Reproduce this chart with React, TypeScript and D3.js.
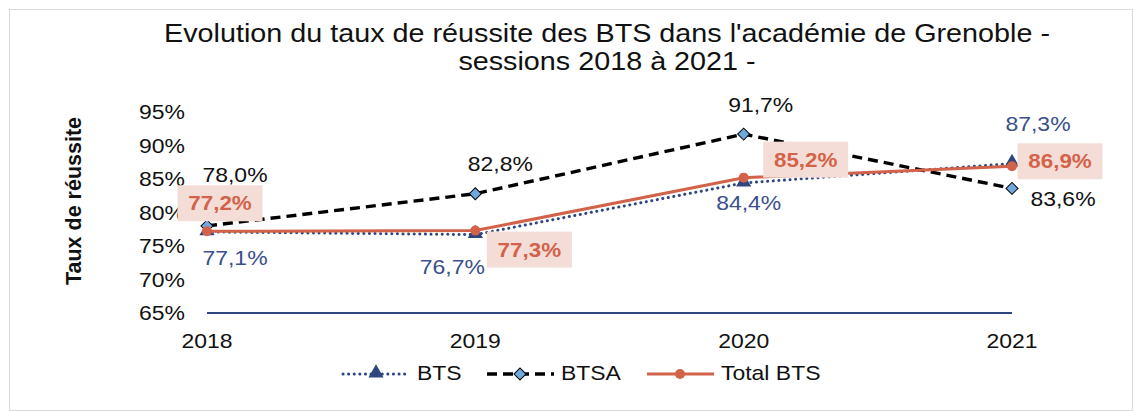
import React, { useEffect, useRef } from "react";
import * as d3 from "d3";

// data
const years = ["2018", "2019", "2020", "2021"];
const btsValues = [77.1, 76.7, 84.4, 87.3];
const btsaValues = [78.0, 82.8, 91.7, 83.6];
const totalValues = [77.2, 77.3, 85.2, 86.9];
const yTicks = [65, 70, 75, 80, 85, 90, 95];

const FONT = "Liberation Sans, Arial, sans-serif";
const NAVY = "#2E4580";
const NAVY_TXT = "#3A4F8C";
const RED = "#D2634A";
const PINK = "#F5DDD7";
const DIAMOND = "#6FA8DC";
const SX = 1.12; // reference text is a little wider than plain Arial

const fmt = (v: number) => v.toFixed(1).replace(".", ",") + "%";

export default function App() {
  const ref = useRef<SVGSVGElement>(null);

  useEffect(() => {
    const svg = d3.select(ref.current);
    svg.selectAll("*").remove();

    const W = 1133, H = 411;

    // writes a text whose glyphs are stretched horizontally around (x, y)
    const label = (parent: any, x: number, y: number, txt: string, opts: any = {}) => {
      const g = parent.append("g").attr("transform", `translate(${x},${y}) scale(${opts.sx ?? SX},1)`);
      return g.append("text")
        .attr("text-anchor", opts.anchor ?? "middle")
        .attr("dy", opts.dy ?? "0.36em")
        .attr("font-family", FONT)
        .attr("font-size", opts.size ?? 20.5)
        .attr("font-weight", opts.bold ? "bold" : "normal")
        .attr("fill", opts.fill ?? "#111")
        .text(txt);
    };

    // frame
    svg.append("rect")
      .attr("x", 9.5).attr("y", 9.5)
      .attr("width", W - 10).attr("height", H - 10)
      .attr("fill", "white").attr("stroke", "#D9D9D9");

    // title
    label(svg, 607, 42, "Evolution du taux de réussite des BTS dans l'académie de Grenoble -", { size: 25, dy: 0, sx: 1.15 });
    label(svg, 607, 70, "sessions 2018 à 2021 -", { size: 25, dy: 0, sx: 1.15 });

    // scales
    const x = d3.scalePoint().domain(years).range([207, 1012]);
    const y = d3.scaleLinear().domain([65, 95]).range([313, 112]);

    // y tick labels
    yTicks.forEach((t) => label(svg, 185, y(t), t + "%", { anchor: "end" }));

    // x axis line (only between first and last category)
    svg.append("line")
      .attr("x1", x(years[0])!).attr("x2", x(years[3])!)
      .attr("y1", y(65)).attr("y2", y(65))
      .attr("stroke", NAVY).attr("stroke-width", 2);

    years.forEach((yr) => label(svg, x(yr)!, 340.5, yr));

    // y axis title
    svg.append("text")
      .attr("transform", "translate(81,201) rotate(-90)")
      .attr("text-anchor", "middle")
      .attr("font-family", FONT).attr("font-size", 21.5).attr("font-weight", "bold")
      .attr("fill", "#111")
      .text("Taux de réussite");

    const line = d3.line<number>()
      .x((_, i) => x(years[i])!)
      .y((d) => y(d));

    const triangle = d3.symbol().type(d3.symbolTriangle).size(100);
    const diamond = d3.symbol().type(d3.symbolSquare).size(72);

    // BTS series (dotted)
    svg.append("path").datum(btsValues)
      .attr("d", line).attr("fill", "none")
      .attr("stroke", NAVY).attr("stroke-width", 3)
      .attr("stroke-dasharray", "0.1 5.5").attr("stroke-linecap", "round");
    svg.append("g").selectAll("path").data(btsValues).join("path")
      .attr("d", triangle)
      .attr("transform", (d, i) => `translate(${x(years[i])},${y(d) - 1})`)
      .attr("fill", NAVY);

    // BTSA series (dashed)
    svg.append("path").datum(btsaValues)
      .attr("d", line).attr("fill", "none")
      .attr("stroke", "#000").attr("stroke-width", 3.4)
      .attr("stroke-dasharray", "10 6");
    svg.append("g").selectAll("path").data(btsaValues).join("path")
      .attr("d", diamond)
      .attr("transform", (d, i) => `translate(${x(years[i])},${y(d)}) rotate(45)`)
      .attr("fill", DIAMOND).attr("stroke", "#000").attr("stroke-width", 1);

    // Total BTS series
    svg.append("path").datum(totalValues)
      .attr("d", line).attr("fill", "none")
      .attr("stroke", RED).attr("stroke-width", 3);
    svg.append("g").selectAll("circle").data(totalValues).join("circle")
      .attr("cx", (_, i) => x(years[i])!).attr("cy", (d) => y(d))
      .attr("r", 5).attr("fill", RED);

    // data labels: offsets of the label centre relative to the point
    const btsOff = [[28, 26], [-23, 32], [5, 20], [26, -40]];
    const btsaOff = [[28, -51], [25, -30], [17, -29], [51, 10]];
    const totOff = [[13, -28], [54, 19], [62, -18], [48, -5]];

    btsValues.forEach((v, i) =>
      label(svg, x(years[i])! + btsOff[i][0], y(v) + btsOff[i][1], fmt(v), { fill: NAVY_TXT }));
    btsaValues.forEach((v, i) =>
      label(svg, x(years[i])! + btsaOff[i][0], y(v) + btsaOff[i][1], fmt(v)));
    totalValues.forEach((v, i) => {
      const cx = x(years[i])! + totOff[i][0];
      const cy = y(v) + totOff[i][1];
      svg.append("rect")
        .attr("x", cx - 42.5).attr("y", cy - 18).attr("width", 85).attr("height", 36)
        .attr("fill", PINK);
      label(svg, cx, cy, fmt(v), { bold: true, fill: RED, size: 20 });
    });

    // legend
    const legendY = 374;
    const items = [
      { x0: 343, label: "BTS" },
      { x0: 487, label: "BTSA" },
      { x0: 647, label: "Total BTS" },
    ];
    items.forEach((it, k) => {
      const g = svg.append("g");
      const l = g.append("line")
        .attr("x1", it.x0).attr("x2", it.x0 + 67)
        .attr("y1", legendY).attr("y2", legendY);
      const mx = it.x0 + 33;
      if (k === 0) {
        l.attr("stroke", NAVY).attr("stroke-width", 3)
          .attr("stroke-dasharray", "0.1 5.5").attr("stroke-linecap", "round");
        g.append("path").attr("d", triangle)
          .attr("transform", `translate(${mx},${legendY - 1})`).attr("fill", NAVY);
      } else if (k === 1) {
        l.attr("stroke", "#000").attr("stroke-width", 3.4).attr("stroke-dasharray", "10 6");
        g.append("path").attr("d", diamond)
          .attr("transform", `translate(${mx},${legendY}) rotate(45)`)
          .attr("fill", DIAMOND).attr("stroke", "#000");
      } else {
        l.attr("stroke", RED).attr("stroke-width", 3);
        g.append("circle").attr("cx", mx).attr("cy", legendY).attr("r", 5).attr("fill", RED);
      }
      label(g, it.x0 + 74, legendY - 1, it.label, { anchor: "start" });
    });
  }, []);

  return (
    <svg ref={ref} width={1133} height={411}
      style={{ position: "absolute", left: 0, top: 0, display: "block" }} />
  );
}
